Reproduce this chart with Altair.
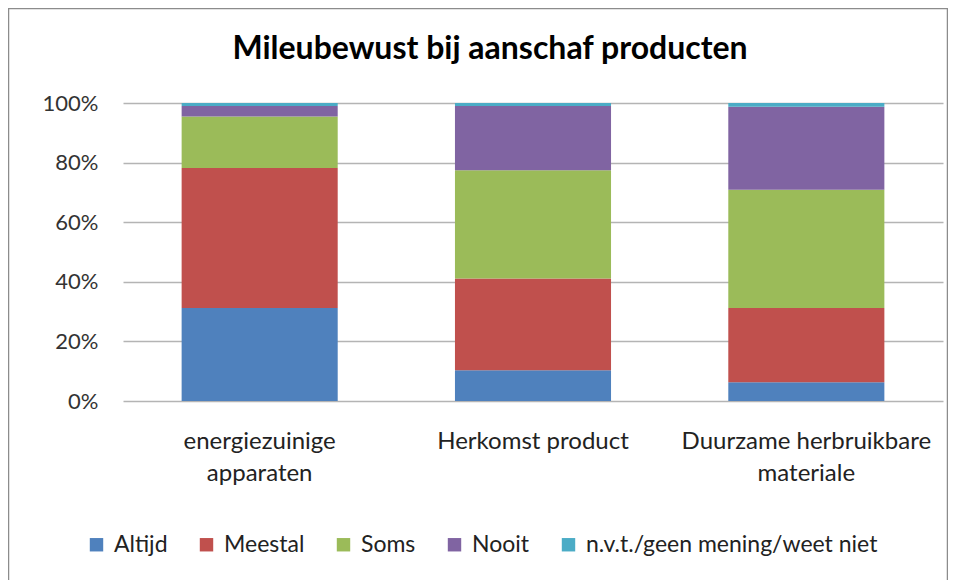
import altair as alt
import pandas as pd

categories = ["energiezuinige\napparaten", "Herkomst product", "Duurzame herbruikbare\nmateriale"]
series = ["Altijd", "Meestal", "Soms", "Nooit", "n.v.t./geen mening/weet niet"]
colors = ["#4F81BD", "#C0504D", "#9BBB59", "#8064A2", "#4BACC6"]
altijd = [31.2, 10.3, 6.3]
meestal = [47.0, 30.8, 24.9]
soms = [17.3, 36.3, 39.7]
nooit = [3.5, 21.6, 27.8]
nvt = [1.0, 1.0, 1.3]

values = [altijd, meestal, soms, nooit, nvt]
rows = []
for si, s in enumerate(series):
    for ci, c in enumerate(categories):
        rows.append({"cat": c, "series": s, "order": si, "value": values[si][ci] / 100})
df = pd.DataFrame(rows)

FONT = "Lato"

bars = alt.Chart(df).mark_bar().encode(
    x=alt.X("cat:N", sort=categories, title=None,
            scale=alt.Scale(paddingInner=0.429, paddingOuter=0.2145),
            axis=alt.Axis(labelExpr="split(datum.label, '\\n')", labelAngle=0,
                          labelFontSize=24, labelColor="#222222", labelFont=FONT,
                          labelLineHeight=32, labelPadding=28, ticks=False, domain=False,
                          labelBaseline="top", labelLimit=500)),
    y=alt.Y("value:Q", stack="zero", title=None,
            scale=alt.Scale(domain=[0, 1], nice=False),
            axis=alt.Axis(format=".0%", values=[0, 0.2, 0.4, 0.6, 0.8, 1.0],
                          labelFontSize=22, labelColor="#333333", labelFont=FONT,
                          labelPadding=25, ticks=False, domain=False,
                          gridColor="#B4B4B4", gridWidth=1.3)),
    color=alt.Color("series:N", sort=series,
                    scale=alt.Scale(domain=series, range=colors),
                    legend=alt.Legend(title=None, orient="none", direction="horizontal",
                                      columns=5, legendX=-38, legendY=430,
                                      symbolType="square", symbolSize=180,
                                      symbolStrokeWidth=0, labelFontSize=23,
                                      labelFont=FONT, labelColor="#222222",
                                      labelOffset=6, columnPadding=27,
                                      labelLimit=500)),
    order=alt.Order("order:Q", sort="ascending"),
)

frame = alt.Chart(pd.DataFrame({"a": [0]})).mark_rect(
    fill=None, stroke="#8C8C8C", strokeWidth=1.5
).encode(
    x=alt.value(-114.5), x2=alt.value(824.5),
    y=alt.value(-94.5), y2=alt.value(490),
)

chart = alt.layer(frame, bars).properties(
    width=820, height=298,
    title=alt.TitleParams("Mileubewust bij aanschaf producten", fontSize=32,
                          font=FONT, fontWeight="bold", color="#000000",
                          anchor="middle", frame="group", dx=-43, offset=-58),
    padding={"left": 115, "top": 95, "right": 5, "bottom": 190},
    autosize=alt.AutoSizeParams(type="none"),
).configure_view(stroke=None)

chart.save("out.html", embed_options={"renderer": "svg", "actions": False})
